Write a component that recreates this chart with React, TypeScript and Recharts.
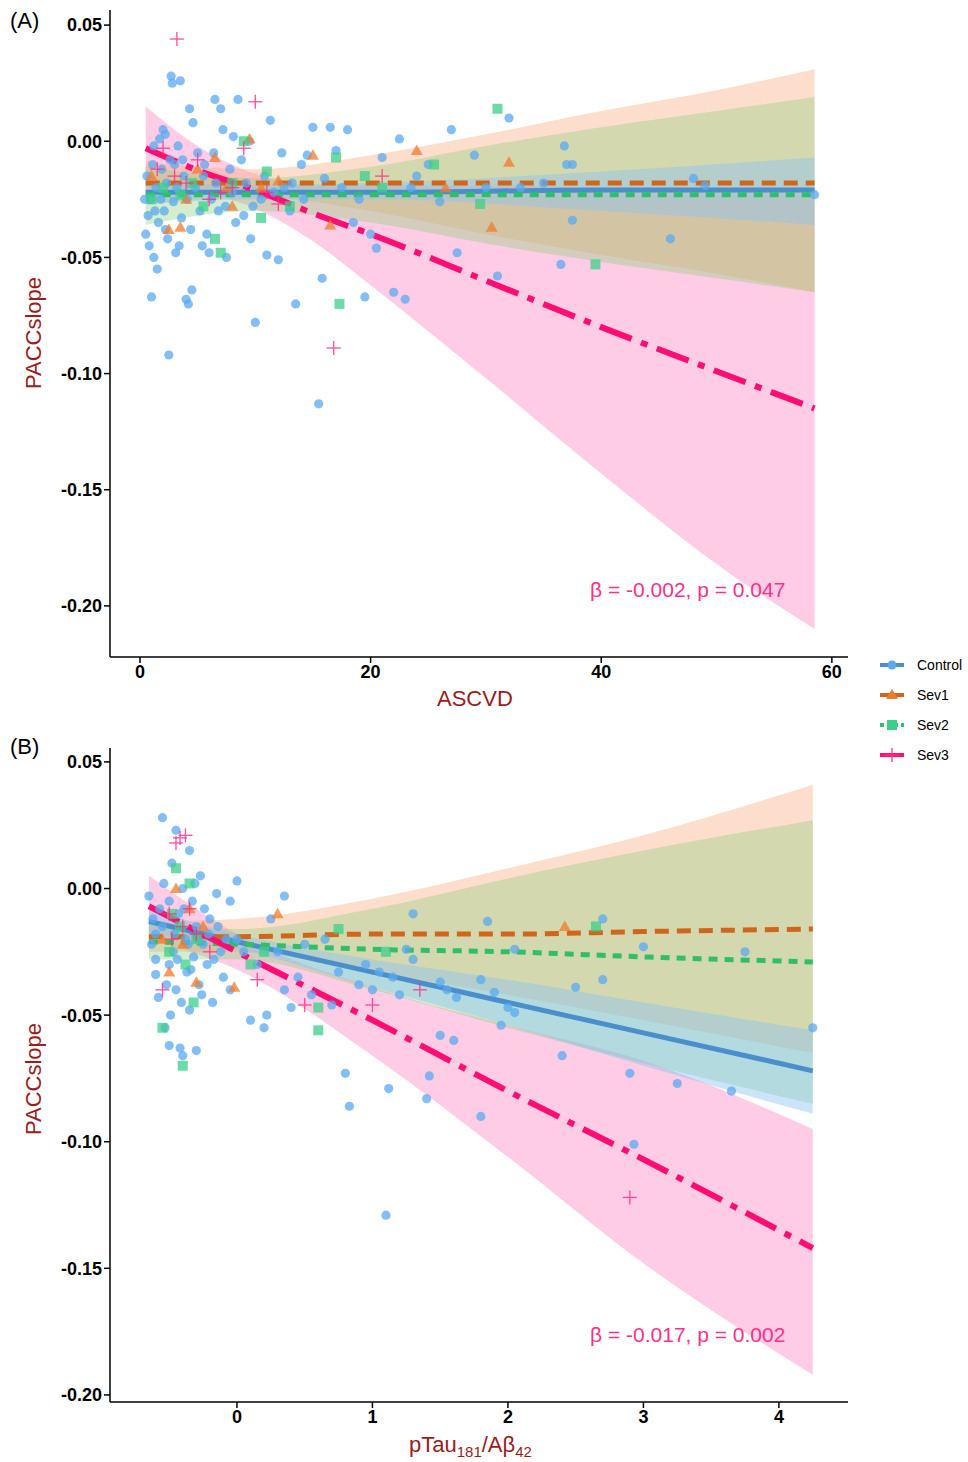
import React from "react";
import {
  ComposedChart,
  Scatter,
  Line,
  Area,
  XAxis,
  YAxis,
  ZAxis,
} from "recharts";

// ---- colours ----
const C_CTRL = "#5aaaf0";
const C_SEV1 = "#f07b2e";
const C_SEV2 = "#3ccf8a";
const C_SEV3 = "#ff2f8a";

// ---- panel A data: [ASCVD, PACCslope] ----
const ctrlA = [
  [0.5,-0.040],[0.8,-0.045],[1,-0.067],[1.2,-0.050],[1.5,-0.055],[1.3,-0.030],[1.8,-0.025],[2,0.005],[2.2,0.003],[2.5,-0.092],
  [2.7,0.028],[2.8,0.025],[3.5,0.026],[3,-0.010],[3.2,-0.020],[3.4,-0.045],[3.6,-0.033],[4,-0.068],[4.2,-0.070],[4.5,-0.064],
  [4.3,0.014],[4.6,0.008],[5,-0.005],[5.5,-0.015],[5.8,-0.040],[6,-0.048],[6.5,0.018],[6.8,-0.030],[7,0.014],[7.2,0.005],
  [7.5,-0.050],[8,-0.022],[8.5,0.018],[9,-0.032],[9.5,0.000],[10,-0.078],[10.5,-0.025],[11,-0.049],[11.3,0.009],[12,-0.051],
  [12.5,-0.020],[13,-0.030],[13.5,-0.070],[14,-0.010],[14.5,-0.006],[15,0.006],[15.5,-0.113],[15.8,-0.059],[16,-0.016],[16.5,0.006],
  [17,-0.004],[17.5,-0.020],[18,0.005],[18.5,-0.035],[19,-0.025],[19.5,-0.067],[20,-0.040],[20.5,-0.046],[21,-0.007],[22,-0.065],
  [22.5,0.001],[23,-0.068],[23.5,-0.020],[24,-0.015],[25,-0.010],[26,-0.026],[27,0.005],[27.5,-0.048],[29,-0.006],[30,-0.020],
  [31,-0.058],[32,0.010],[33,-0.020],[35,-0.018],[36.5,-0.053],[36.8,-0.002],[37,-0.010],[37.5,-0.010],[37.5,-0.034],[46,-0.042],
  [48,-0.016],[49,-0.019],[58.5,-0.023],
  [0.6,-0.015],[0.9,-0.025],[1.1,-0.010],[1.4,-0.020],[1.6,-0.035],[1.9,-0.012],[2.1,-0.030],[2.3,-0.018],[2.6,-0.008],[2.9,-0.026],
  [3.3,-0.002],[3.8,-0.015],[4.1,-0.025],[4.4,-0.038],[4.8,-0.020],[5.2,-0.030],[5.6,-0.010],[6.2,-0.025],[6.6,-0.018],[7.4,-0.028],
  [7.8,-0.012],[8.3,-0.035],[8.8,-0.008],[9.2,-0.018],[9.8,-0.028],[10.8,-0.015],[11.6,-0.022],[12.3,-0.005],[13.2,-0.018],[14.2,-0.025],
  [1.2,-0.002],[0.4,-0.025],[0.7,-0.032],[2.4,-0.042],[3.1,-0.048],[5.4,-0.045],[6.4,-0.005],[8.1,0.002],[9.6,-0.042],[1.7,0.001],
  [2.2,-0.038],[3.7,-0.008],
];
const sev1A = [
  [1,-0.015],[2.5,-0.038],[3.5,-0.037],[5,-0.012],[6.5,-0.007],[7.5,-0.020],[9.5,0.001],[10.5,-0.020],[12,-0.017],[15,-0.006],
  [16.5,-0.036],[24,-0.004],[26.5,-0.020],[30.5,-0.037],[32,-0.009],[4,-0.025],[8,-0.028],
];
const sev2A = [
  [1,-0.025],[2,-0.020],[3.5,-0.023],[4.5,-0.018],[6.5,-0.042],[7,-0.048],[8,-0.018],[9,0.000],[10.5,-0.033],[11,-0.013],
  [13,-0.028],[17,-0.007],[17.3,-0.070],[19.5,-0.015],[21,-0.020],[25.5,-0.010],[29.5,-0.027],[31,0.014],[39.5,-0.053],[5.5,-0.028],
];
const sev3A = [
  [3.2,0.044],[10,0.017],[2,-0.003],[3,-0.015],[4,-0.018],[5,-0.008],[6,-0.025],[7,-0.022],[9,-0.003],[11,-0.022],
  [12,-0.027],[16.8,-0.089],[21,-0.015],[1.5,-0.012],[8,-0.020],
];
// fits: [x, fit, lower, upper]
const fitCtrlA = [[0.5,-0.022,-0.027,-0.017],[10,-0.022,-0.025,-0.019],[20,-0.022,-0.025,-0.018],[40,-0.021,-0.030,-0.013],[58.5,-0.021,-0.036,-0.007]];
const fitSev1A = [[0.5,-0.018,-0.027,-0.009],[10,-0.018,-0.024,-0.012],[20,-0.018,-0.030,-0.006],[30,-0.018,-0.040,0.003],[40,-0.018,-0.049,0.013],[50,-0.018,-0.057,0.022],[58.5,-0.018,-0.065,0.031]];
const fitSev2A = [[0.5,-0.023,-0.036,-0.011],[10,-0.023,-0.030,-0.016],[20,-0.023,-0.035,-0.011],[30,-0.023,-0.044,-0.002],[40,-0.023,-0.052,0.006],[50,-0.023,-0.059,0.013],[58.5,-0.023,-0.065,0.019]];
const fitSev3A = [[0.5,-0.003,-0.020,0.015],[5,-0.0125,-0.022,-0.002],[10,-0.021,-0.029,-0.014],[15,-0.031,-0.043,-0.019],[20,-0.040,-0.062,-0.019],[30,-0.060,-0.102,-0.019],[40,-0.080,-0.143,-0.020],[50,-0.099,-0.182,-0.021],[58.5,-0.115,-0.210,-0.022]];

// ---- panel B data: [pTau181/Aβ42, PACCslope] ----
const ctrlB = [
  [-0.65,-0.003],[-0.63,-0.022],[-0.6,-0.034],[-0.62,-0.012],[-0.58,-0.043],[-0.55,0.028],[-0.55,-0.015],[-0.53,-0.055],[-0.5,-0.005],[-0.5,-0.030],
  [-0.5,-0.062],[-0.48,0.010],[-0.47,-0.025],[-0.45,0.023],[-0.45,-0.040],[-0.43,-0.010],[-0.42,-0.063],[-0.4,-0.066],[-0.4,0.000],[-0.38,-0.020],
  [-0.37,-0.033],[-0.35,0.015],[-0.35,-0.048],[-0.33,-0.005],[-0.32,-0.027],[-0.3,-0.064],[-0.3,-0.015],[-0.28,-0.038],[-0.27,0.005],[-0.25,-0.022],
  [-0.22,-0.030],[-0.2,-0.012],[-0.18,-0.045],[-0.15,-0.002],[-0.12,-0.025],[-0.1,-0.035],[-0.05,-0.005],[-0.05,-0.040],[0,0.003],[0,-0.020],
  [0.05,-0.025],[0.1,-0.052],[0.15,-0.030],[0.2,-0.055],[0.22,-0.050],[0.25,-0.012],[0.3,-0.025],[0.35,-0.003],[0.35,-0.040],[0.4,-0.047],
  [0.45,-0.035],[0.5,-0.022],[0.55,-0.042],[0.65,-0.020],[0.7,-0.046],[0.75,-0.033],[0.8,-0.073],[0.83,-0.086],[0.9,-0.038],[0.95,-0.030],
  [1.0,-0.040],[1.05,-0.033],[1.1,-0.129],[1.12,-0.079],[1.15,-0.035],[1.2,-0.042],[1.25,-0.024],[1.3,-0.028],[1.4,-0.083],[1.42,-0.074],
  [1.5,-0.058],[1.5,-0.037],[1.55,-0.040],[1.6,-0.060],[1.62,-0.043],[1.3,-0.010],[1.8,-0.090],[1.8,-0.036],[1.85,-0.013],[1.9,-0.041],
  [1.95,-0.054],[2.0,-0.047],[2.05,-0.049],[2.05,-0.024],[2.4,-0.066],[2.5,-0.039],[2.7,-0.012],[2.7,-0.036],[2.9,-0.073],[2.93,-0.101],
  [3.0,-0.023],[3.25,-0.077],[3.65,-0.080],[3.75,-0.025],[4.25,-0.055],
  [-0.6,-0.018],[-0.57,-0.008],[-0.52,-0.038],[-0.46,-0.018],[-0.44,-0.028],[-0.41,-0.045],[-0.39,-0.008],[-0.36,-0.022],[-0.34,-0.032],[-0.31,0.002],
  [-0.29,-0.020],[-0.26,-0.042],[-0.24,-0.008],[-0.21,-0.018],[-0.17,-0.028],[-0.14,-0.015],[-0.08,-0.020],[-0.6,-0.028],[-0.54,0.002],[-0.49,-0.050],
];
const sev1B = [[-0.5,-0.033],[-0.45,0.000],[-0.4,-0.022],[-0.3,-0.037],[-0.25,-0.015],[-0.02,-0.039],[0.3,-0.010],[2.42,-0.015],[-0.55,-0.020],[-0.35,-0.008]];
const sev2B = [
  [-0.55,-0.055],[-0.5,-0.025],[-0.45,0.008],[-0.42,-0.015],[-0.4,-0.070],[-0.38,-0.030],[-0.35,0.002],[-0.32,-0.045],[-0.3,-0.020],[0.2,-0.025],
  [0.6,-0.056],[0.6,-0.047],[0.75,-0.016],[1.1,-0.025],[2.65,-0.015],[-0.48,-0.010],[0.1,-0.030],
];
const sev3B = [
  [-0.42,0.020],[-0.38,0.021],[-0.45,0.018],[-0.5,-0.010],[-0.48,-0.020],[-0.4,-0.015],[-0.35,-0.008],[-0.3,-0.018],[-0.55,-0.040],[0.15,-0.036],
  [0.5,-0.046],[1.0,-0.046],[1.35,-0.040],[2.9,-0.122],[-0.2,-0.025],
];
const fitCtrlB = [[-0.65,-0.013,-0.018,-0.008],[0,-0.021,-0.024,-0.018],[1,-0.033,-0.039,-0.028],[2,-0.045,-0.054,-0.036],[3,-0.057,-0.070,-0.045],[4.25,-0.072,-0.089,-0.056]];
const fitSev1B = [[-0.65,-0.019,-0.025,-0.013],[0,-0.019,-0.025,-0.012],[1,-0.018,-0.033,-0.004],[2,-0.018,-0.042,0.008],[3,-0.017,-0.052,0.021],[4.25,-0.016,-0.065,0.041]];
const fitSev2B = [[-0.65,-0.021,-0.028,-0.014],[0,-0.022,-0.028,-0.016],[1,-0.024,-0.040,-0.008],[2,-0.025,-0.055,0.004],[3,-0.027,-0.069,0.015],[4.25,-0.029,-0.085,0.027]];
const fitSev3B = [[-0.65,-0.007,-0.020,0.005],[0,-0.025,-0.032,-0.018],[1,-0.052,-0.066,-0.039],[2,-0.080,-0.106,-0.054],[3,-0.107,-0.148,-0.068],[4.25,-0.142,-0.192,-0.095]];

const yTicks = [0.05, 0, -0.05, -0.1, -0.15, -0.2];

const pts = (arr: number[][]) => arr.map(([x, y]) => ({ x, y }));
const fits = (arr: number[][]) => arr.map(([x, f, lo, hi]) => ({ x, f, band: [lo, hi] }));

const Plus = (p: any) => (
  <g stroke={C_SEV3} strokeWidth={1.3} opacity={0.85}>
    <line x1={p.cx - 7} x2={p.cx + 7} y1={p.cy} y2={p.cy} />
    <line x1={p.cx} x2={p.cx} y1={p.cy - 7} y2={p.cy + 7} />
  </g>
);
const Tri = (p: any) => (
  <polygon points={`${p.cx},${p.cy - 6} ${p.cx - 6},${p.cy + 4.5} ${p.cx + 6},${p.cy + 4.5}`} fill={C_SEV1} opacity={0.75} />
);
const Sq = (p: any) => <rect x={p.cx - 5} y={p.cy - 5} width={10} height={10} fill={C_SEV2} opacity={0.75} />;
const Dot = (p: any) => <circle cx={p.cx} cy={p.cy} r={4.6} fill={C_CTRL} opacity={0.75} />;

const tickStyle = { fontSize: 18, fontWeight: 700, fill: "#000", fontFamily: "Liberation Sans, Arial" };

function Panel(props: any) {
  const { height, top, bottom, xDomain, xTicks, yDomain, data } = props;
  const [cA, s1, s2, s3, fc, f1, f2, f3] = data;
  return (
    <ComposedChart width={968} height={height} margin={{ top, right: 120, left: 50, bottom }}>
      <XAxis type="number" dataKey="x" domain={xDomain} ticks={xTicks} allowDataOverflow
        tick={tickStyle} tickSize={6} stroke="#000" strokeWidth={1.5} height={30} />
      <YAxis type="number" dataKey="y" domain={yDomain} ticks={yTicks} allowDataOverflow width={60}
        tick={tickStyle} tickSize={6} stroke="#000" strokeWidth={1.5}
        tickFormatter={(v: number) => v.toFixed(2)} />
      <ZAxis range={[70, 70]} />
      <Area data={fits(f3)} dataKey="band" type="monotone" fill="#ff7fbf" fillOpacity={0.4} stroke="none" isAnimationActive={false} />
      <Area data={fits(f1)} dataKey="band" type="monotone" fill="#fba77a" fillOpacity={0.38} stroke="none" isAnimationActive={false} />
      <Area data={fits(f2)} dataKey="band" type="monotone" fill="#8fcf7e" fillOpacity={0.38} stroke="none" isAnimationActive={false} />
      <Area data={fits(fc)} dataKey="band" type="monotone" fill="#8cc4f5" fillOpacity={0.45} stroke="none" isAnimationActive={false} />
      <Scatter data={pts(cA)} shape={Dot} isAnimationActive={false} />
      <Scatter data={pts(s1)} shape={Tri} isAnimationActive={false} />
      <Scatter data={pts(s2)} shape={Sq} isAnimationActive={false} />
      <Scatter data={pts(s3)} shape={Plus} isAnimationActive={false} />
      <Line data={fits(fc)} dataKey="f" type="monotone" stroke="#4a8fcc" strokeWidth={5} dot={false} isAnimationActive={false} />
      <Line data={fits(f1)} dataKey="f" type="monotone" stroke="#d0661c" strokeWidth={5} strokeDasharray="14 8" dot={false} isAnimationActive={false} />
      <Line data={fits(f2)} dataKey="f" type="monotone" stroke="#2fbf6a" strokeWidth={5} strokeDasharray="9 7" dot={false} isAnimationActive={false} />
      <Line data={fits(f3)} dataKey="f" type="monotone" stroke="#ff0d72" strokeWidth={6} strokeDasharray="34 10 7 10" dot={false} isAnimationActive={false} />
    </ComposedChart>
  );
}

const labelStyle: React.CSSProperties = {
  position: "absolute", color: "#9b1c1c", fontSize: 22, fontFamily: "Liberation Sans, Arial", whiteSpace: "nowrap",
};
const annStyle: React.CSSProperties = {
  position: "absolute", color: C_SEV3, fontSize: 21, fontFamily: "Liberation Sans, Arial", whiteSpace: "nowrap",
};
const panelTag: React.CSSProperties = {
  position: "absolute", fontSize: 22, fontFamily: "Liberation Sans, Arial", color: "#000",
};

const legendItems = [
  { name: "Control", color: C_CTRL, line: "#4a8fcc", dash: "" },
  { name: "Sev1", color: C_SEV1, line: "#d0661c", dash: "" },
  { name: "Sev2", color: C_SEV2, line: "#2fbf6a", dash: "4 3" },
  { name: "Sev3", color: C_SEV3, line: "#ff0d72", dash: "" },
];

export default function App() {
  return (
    <div style={{ position: "absolute", left: 0, top: 0, width: 968, height: 1462, background: "#fff" }}>
      <div style={{ position: "absolute", left: 0, top: 0 }}>
        <Panel height={730} top={10} bottom={43} xDomain={[-2.6, 61.4]} xTicks={[0, 20, 40, 60]} yDomain={[-0.222, 0.0565]}
          data={[ctrlA, sev1A, sev2A, sev3A, fitCtrlA, fitSev1A, fitSev2A, fitSev3A]} />
      </div>
      <div style={{ position: "absolute", left: 0, top: 730 }}>
        <Panel height={732} top={18} bottom={30} xDomain={[-0.937, 4.51]} xTicks={[0, 1, 2, 3, 4]} yDomain={[-0.2028, 0.0555]}
          data={[ctrlB, sev1B, sev2B, sev3B, fitCtrlB, fitSev1B, fitSev2B, fitSev3B]} />
      </div>

      <div style={{ ...panelTag, left: 10, top: 8 }}>(A)</div>
      <div style={{ ...panelTag, left: 10, top: 734 }}>(B)</div>

      <div style={{ ...labelStyle, left: 437, top: 686 }}>ASCVD</div>
      <div style={{ ...labelStyle, left: 409, top: 1432 }}>
        pTau<sub style={{ fontSize: 15 }}>181</sub>/Aβ<sub style={{ fontSize: 15 }}>42</sub>
      </div>
      <div style={{ ...labelStyle, left: -22, top: 320, transform: "rotate(-90deg)" }}>PACCslope</div>
      <div style={{ ...labelStyle, left: -22, top: 1066, transform: "rotate(-90deg)" }}>PACCslope</div>

      <div style={{ ...annStyle, left: 590, top: 578 }}>β = -0.002, p = 0.047</div>
      <div style={{ ...annStyle, left: 590, top: 1323 }}>β = -0.017, p = 0.002</div>

      <svg style={{ position: "absolute", left: 876, top: 652 }} width={92} height={120}>
        {legendItems.map((it, i) => {
          const cy = 13 + i * 30;
          return (
            <g key={it.name}>
              <line x1={4} x2={28} y1={cy} y2={cy} stroke={it.line} strokeWidth={4} strokeDasharray={it.dash} />
              {i === 0 && <circle cx={16} cy={cy} r={4.5} fill={it.color} />}
              {i === 1 && <polygon points={`16,${cy - 6} 10,${cy + 4} 22,${cy + 4}`} fill={it.color} />}
              {i === 2 && <rect x={11} y={cy - 5} width={10} height={10} fill={it.color} />}
              {i === 3 && (
                <g stroke={it.color} strokeWidth={1.3}>
                  <line x1={9} x2={23} y1={cy} y2={cy} />
                  <line x1={16} x2={16} y1={cy - 7} y2={cy + 7} />
                </g>
              )}
              <text x={41} y={cy + 5} fontSize={14} fontFamily="Liberation Sans, Arial" fill="#000">{it.name}</text>
            </g>
          );
        })}
      </svg>
    </div>
  );
}
